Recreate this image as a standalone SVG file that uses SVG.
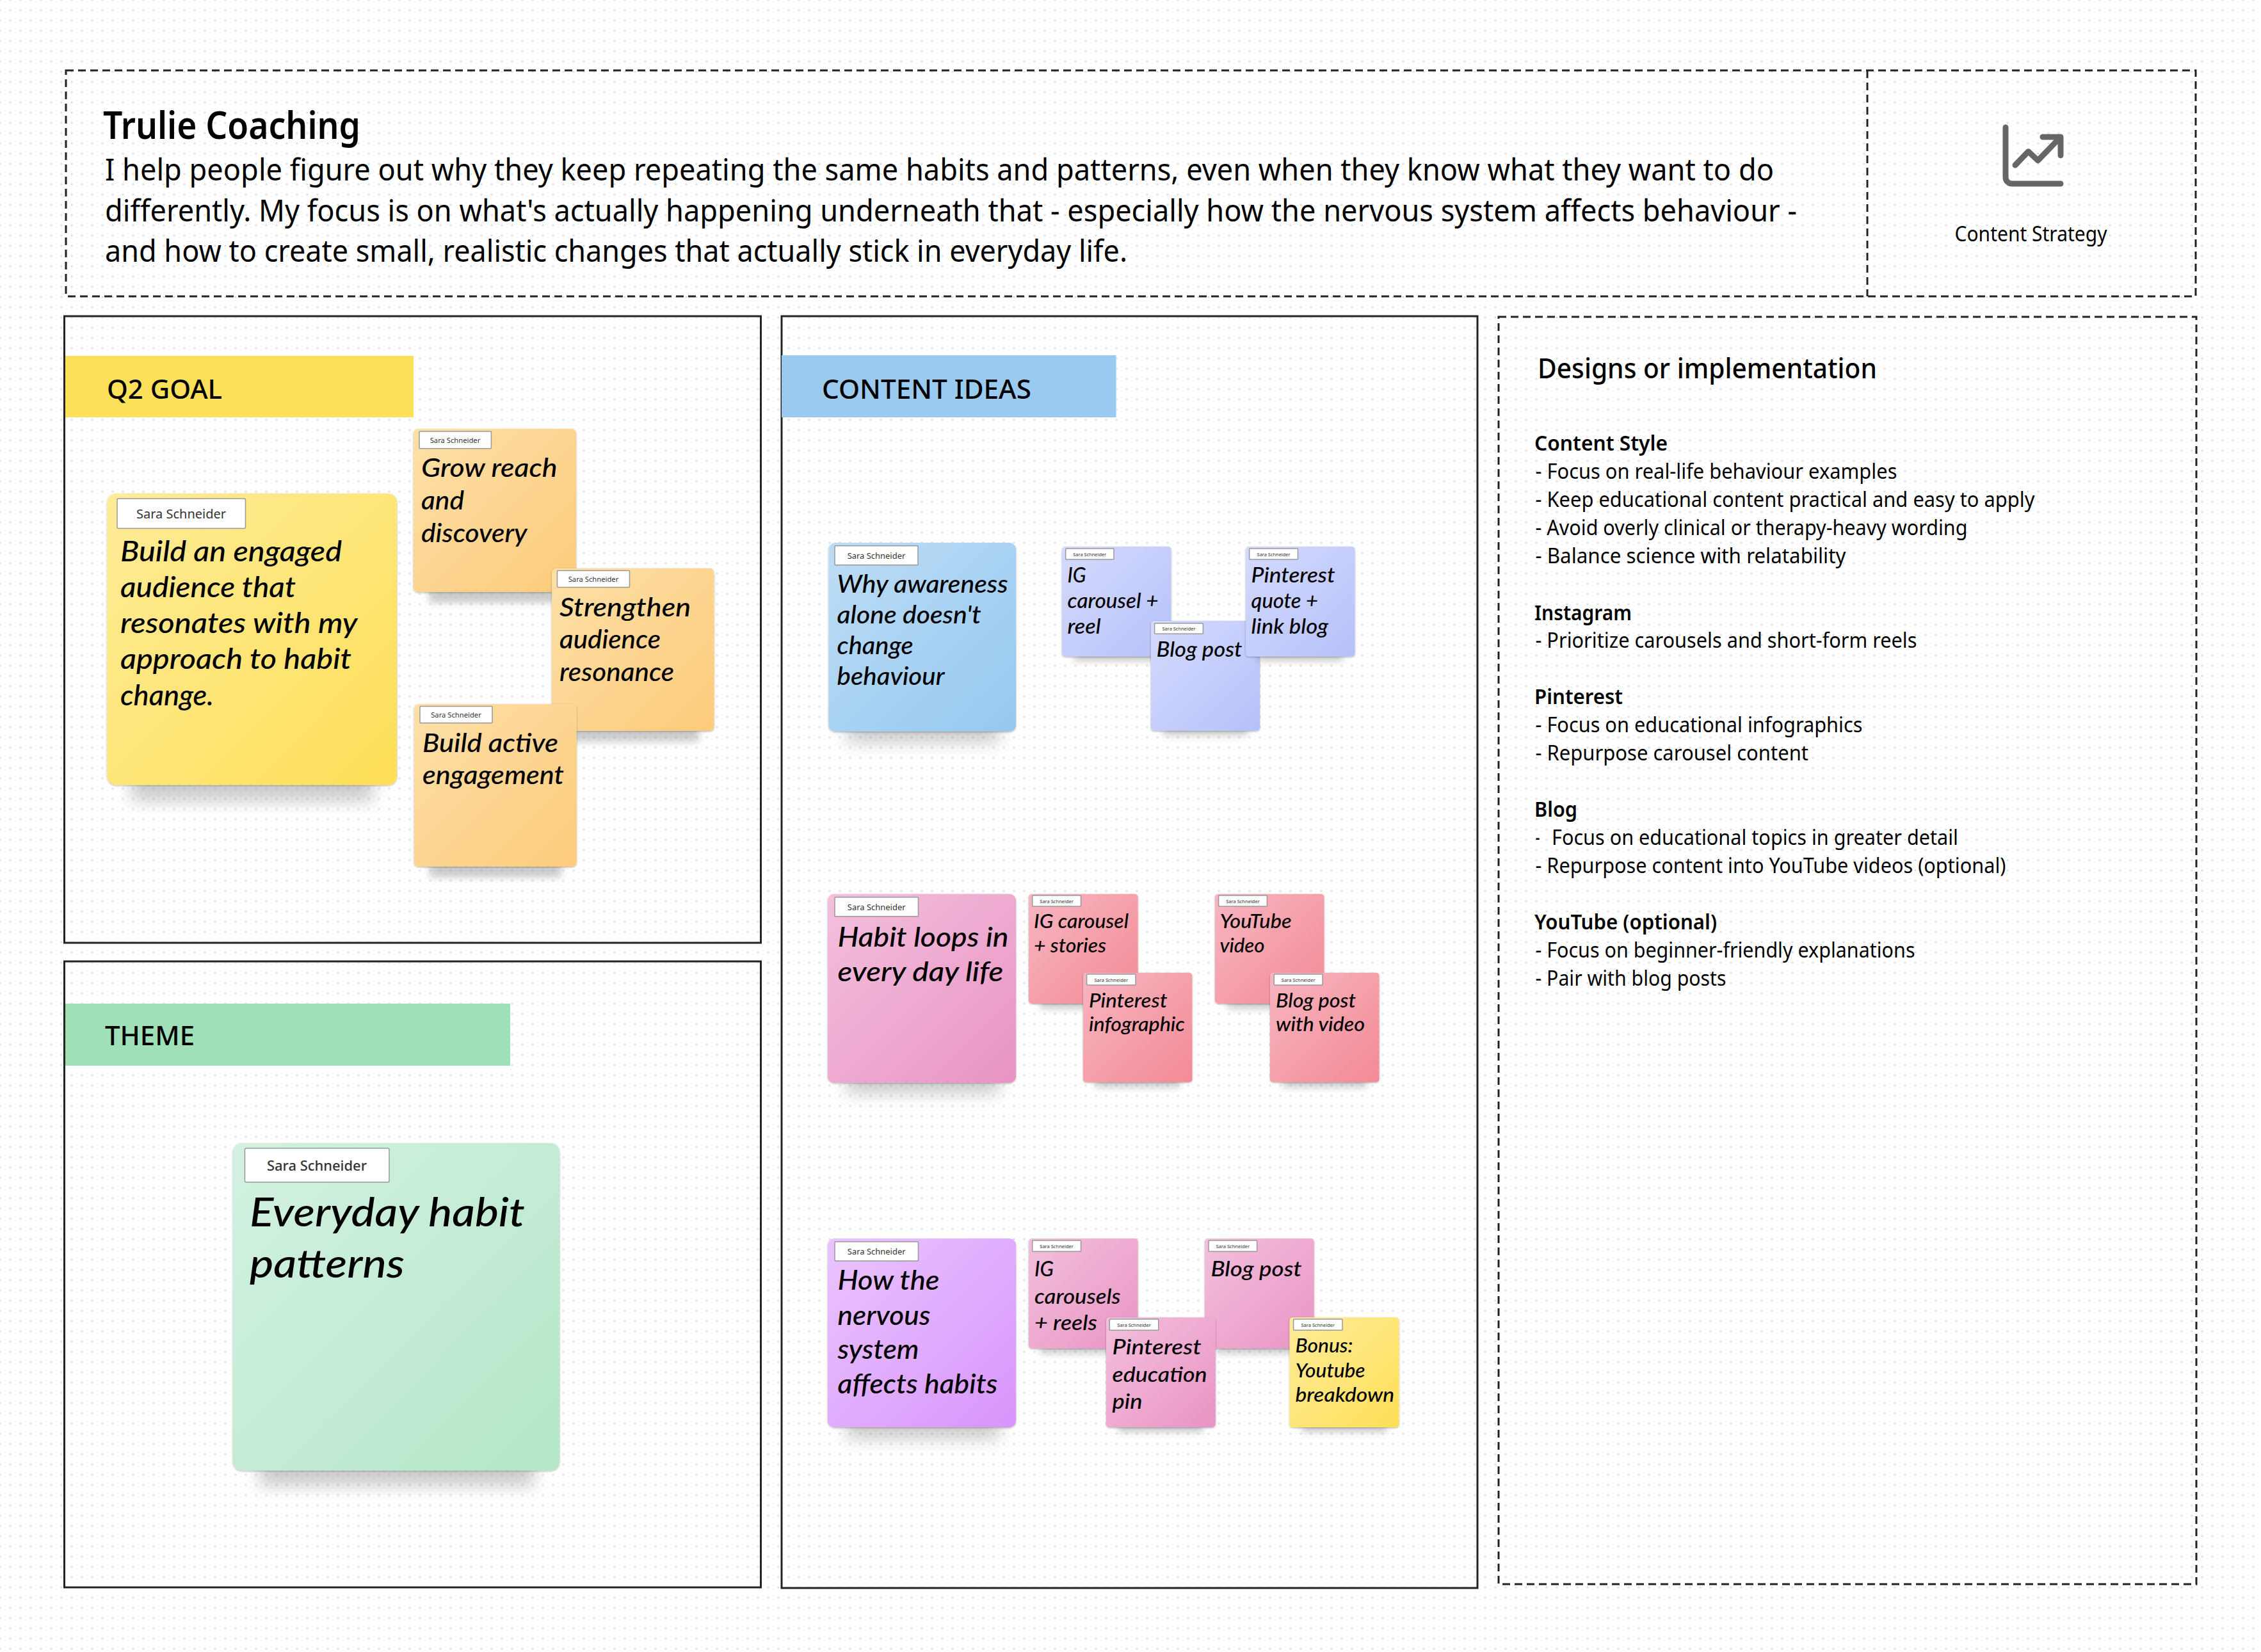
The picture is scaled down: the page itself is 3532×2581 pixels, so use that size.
<svg xmlns="http://www.w3.org/2000/svg" width="3532" height="2581" viewBox="0 0 3532 2581">
<style>
text{transform:translateY(2px)}
.s{font-family:"Noto Sans","Open Sans","Liberation Sans",sans-serif;fill:#000}
.b{font-weight:600}
.k{font-weight:500}
.h{font-family:"Lato","Liberation Sans",sans-serif;font-style:italic;font-weight:500;fill:#000}
.p{fill:none;stroke:#222;stroke-width:3}
.d{fill:none;stroke:#222;stroke-width:3;stroke-dasharray:12 7}
.bg{stroke:none}
.sh{fill:#000;fill-opacity:.2;filter:url(#blur)}
.ss{fill:#000;fill-opacity:.2;filter:url(#blurs)}
.n{filter:url(#edge)}
.t{fill:#fff;stroke:#999;stroke-width:1.5}
.a{font-family:"Noto Sans","Open Sans",sans-serif;fill:#333;text-anchor:middle}
.ic{fill:none;stroke:#666;stroke-width:9;stroke-linecap:round;stroke-linejoin:round}
.b46{font-size:44px}.o{font-size:40px}.g{font-size:62px}.bl{font-size:38px}.l{font-size:32px}.q{font-size:42px}.m{font-size:30px}.u{font-size:33px}
.r{font-size:32px}
</style>
<defs>
<pattern id="dots" x="15" y="15" width="16" height="16" patternUnits="userSpaceOnUse"><rect x="0" y="0" width="2" height="2" fill="#cfcfcf"/></pattern>
<filter id="blur" x="-30%" y="-50%" width="160%" height="200%"><feGaussianBlur stdDeviation="13"/></filter>
<filter id="blurs" x="-30%" y="-80%" width="160%" height="260%"><feGaussianBlur stdDeviation="6"/></filter>
<filter id="edge" x="-5%" y="-5%" width="110%" height="110%"><feDropShadow dx="0" dy="1" stdDeviation="1.500" flood-color="#000" flood-opacity=".3"/></filter>
<linearGradient id="gy" x1="0" y1="0" x2="1" y2="1"><stop offset="0" stop-color="#FEEC98"/><stop offset="1" stop-color="#FEDF58"/></linearGradient>
<linearGradient id="go" x1="0" y1="0" x2="1" y2="1"><stop offset="0" stop-color="#FDE0A8"/><stop offset="1" stop-color="#FDCB7B"/></linearGradient>
<linearGradient id="gg" x1="0" y1="0" x2="1" y2="1"><stop offset="0" stop-color="#D3F1E0"/><stop offset="1" stop-color="#B4E7C9"/></linearGradient>
<linearGradient id="gb" x1="0" y1="0" x2="1" y2="1"><stop offset="0" stop-color="#BDDDF6"/><stop offset="1" stop-color="#95C8EF"/></linearGradient>
<linearGradient id="gl" x1="0" y1="0" x2="1" y2="1"><stop offset="0" stop-color="#D5DBFD"/><stop offset="1" stop-color="#B5C1FA"/></linearGradient>
<linearGradient id="gr" x1="0" y1="0" x2="1" y2="1"><stop offset="0" stop-color="#F7B6C1"/><stop offset="1" stop-color="#F38A95"/></linearGradient>
<linearGradient id="gp" x1="0" y1="0" x2="1" y2="1"><stop offset="0" stop-color="#F3C0DD"/><stop offset="1" stop-color="#E994C4"/></linearGradient>
<linearGradient id="gv" x1="0" y1="0" x2="1" y2="1"><stop offset="0" stop-color="#EBC4FF"/><stop offset="1" stop-color="#D795FC"/></linearGradient>
</defs>
<rect width="3532" height="2581" fill="#fff"/>
<rect width="3532" height="2581" fill="url(#dots)"/>

<g id="header">
<rect class="d" x="103" y="110" width="3327" height="353"/>
<path class="d" d="M2917 110V463"/>
<text class="s b" x="161" y="215" font-size="60" textLength="402" lengthAdjust="spacingAndGlyphs">Trulie Coaching</text>
<text class="s" x="164" y="280" font-size="48" textLength="2607" lengthAdjust="spacingAndGlyphs">I help people figure out why they keep repeating the same habits and patterns, even when they know what they want to do</text>
<text class="s" x="164" y="343.500" font-size="48" textLength="2643" lengthAdjust="spacingAndGlyphs">differently. My focus is on what's actually happening underneath that - especially how the nervous system affects behaviour -</text>
<text class="s" x="164" y="407" font-size="48" textLength="1597" lengthAdjust="spacingAndGlyphs">and how to create small, realistic changes that actually stick in everyday life.</text>
</g>
<g id="content-strategy">
<path class="ic" d="M3133 199V277a10 10 0 0 0 10 10H3219"/>
<path class="ic" d="M3148 258L3168.600 236.700L3183.600 250.700L3219 214M3191 214H3219V242.700"/>
<text class="s" x="3172.500" y="375" font-size="32" text-anchor="middle" fill="#111" textLength="238" lengthAdjust="spacingAndGlyphs">Content Strategy</text>
</g>

<g id="q2-goal-panel">
<rect class="p" x="100.500" y="494" width="1088" height="979"/>
<rect class="bg" x="102" y="556" width="544" height="96" fill="#FDE05A"/>
<text class="s k" x="167" y="621" font-size="42" textLength="180" lengthAdjust="spacingAndGlyphs">Q2 GOAL</text>
</g>
<g id="theme-panel">
<rect class="p" x="100.500" y="1502" width="1088" height="978"/>
<rect class="bg" x="102" y="1568" width="695" height="97" fill="#9FE0B8"/>
<text class="s k" x="164" y="1631" font-size="42" textLength="140" lengthAdjust="spacingAndGlyphs">THEME</text>
</g>
<g id="content-ideas-panel">
<rect class="p" x="1221" y="494" width="1087" height="1987"/>
<rect class="bg" x="1221" y="555" width="522.500" height="97" fill="#9BCAF0"/>
<text class="s k" x="1284" y="621" font-size="42" textLength="327" lengthAdjust="spacingAndGlyphs">CONTENT IDEAS</text>
</g>

<g id="design-panel">
<rect class="d" x="2341" y="495" width="1090" height="1980"/>
<text class="s k" x="2402" y="589.300" font-size="44" textLength="530" lengthAdjust="spacingAndGlyphs">Designs or implementation</text>
<text class="s b r" x="2397" y="701.700" textLength="208" lengthAdjust="spacingAndGlyphs">Content Style</text>
<text class="s r" x="2398.500" y="746" textLength="565" lengthAdjust="spacingAndGlyphs">- Focus on real-life behaviour examples</text>
<text class="s r" x="2398.500" y="790" textLength="780" lengthAdjust="spacingAndGlyphs">- Keep educational content practical and easy to apply</text>
<text class="s r" x="2398.500" y="834" textLength="675" lengthAdjust="spacingAndGlyphs">- Avoid overly clinical or therapy-heavy wording</text>
<text class="s r" x="2398.500" y="878" textLength="485" lengthAdjust="spacingAndGlyphs">- Balance science with relatability</text>
<text class="s b r" x="2397" y="966.700" textLength="152" lengthAdjust="spacingAndGlyphs">Instagram</text>
<text class="s r" x="2398.500" y="1010" textLength="596" lengthAdjust="spacingAndGlyphs">- Prioritize carousels and short-form reels</text>
<text class="s b r" x="2397" y="1098" textLength="138" lengthAdjust="spacingAndGlyphs">Pinterest</text>
<text class="s r" x="2398.500" y="1141.700" textLength="511" lengthAdjust="spacingAndGlyphs">- Focus on educational infographics</text>
<text class="s r" x="2398.500" y="1185.700" textLength="426.500" lengthAdjust="spacingAndGlyphs">- Repurpose carousel content</text>
<text class="s b r" x="2397" y="1274" textLength="67" lengthAdjust="spacingAndGlyphs">Blog</text>
<text class="s r" x="2398.500" y="1318" textLength="7" lengthAdjust="spacingAndGlyphs">-</text>
<text class="s r" x="2424" y="1318" textLength="635" lengthAdjust="spacingAndGlyphs">Focus on educational topics in greater detail</text>
<text class="s r" x="2398.500" y="1362" textLength="735" lengthAdjust="spacingAndGlyphs">- Repurpose content into YouTube videos (optional)</text>
<text class="s b r" x="2397" y="1450" textLength="285" lengthAdjust="spacingAndGlyphs">YouTube (optional)</text>
<text class="s r" x="2398.500" y="1494" textLength="593" lengthAdjust="spacingAndGlyphs">- Focus on beginner-friendly explanations</text>
<text class="s r" x="2398.500" y="1538" textLength="298" lengthAdjust="spacingAndGlyphs">- Pair with blog posts</text>
</g>

<g id="goal-main">
<rect class="sh" x="205" y="1180" width="378" height="72"/>
<rect class="n" x="167.400" y="771" width="452.600" height="455.500" rx="14" fill="url(#gy)"/>
<rect class="t" x="183" y="779" width="200.500" height="46.600" rx="2"/>
<text class="a" x="283" y="808" font-size="20" textLength="140" lengthAdjust="spacingAndGlyphs">Sara Schneider</text>
<text class="h b46" x="188" y="875" textLength="346" lengthAdjust="spacingAndGlyphs">Build an engaged</text>
<text class="h b46" x="188" y="931" textLength="274" lengthAdjust="spacingAndGlyphs">audience that</text>
<text class="h b46" x="188" y="987" textLength="370.500" lengthAdjust="spacingAndGlyphs">resonates with my</text>
<text class="h b46" x="188" y="1043" textLength="361" lengthAdjust="spacingAndGlyphs">approach to habit</text>
<text class="h b46" x="188" y="1100" textLength="146" lengthAdjust="spacingAndGlyphs">change.</text>
</g>
<g id="goal-reach">
<rect class="ss" x="670" y="900" width="206" height="42"/>
<rect class="n" x="646" y="670" width="254" height="255" rx="7" fill="url(#go)"/>
<rect class="t" x="655" y="674" width="112.400" height="26.700" rx="1"/>
<text class="a" x="711" y="689.500" font-size="11" textLength="78.600" lengthAdjust="spacingAndGlyphs">Sara Schneider</text>
<text class="h o" x="658" y="743" textLength="212.600" lengthAdjust="spacingAndGlyphs">Grow reach</text>
<text class="h o" x="658" y="793.500" textLength="67" lengthAdjust="spacingAndGlyphs">and</text>
<text class="h o" x="658" y="845" textLength="165.600" lengthAdjust="spacingAndGlyphs">discovery</text>
</g>
<g id="goal-resonance">
<rect class="ss" x="886" y="1117" width="206" height="42"/>
<rect class="n" x="862" y="888" width="253.500" height="254" rx="7" fill="url(#go)"/>
<rect class="t" x="870.500" y="891.600" width="113" height="25.900" rx="1"/>
<text class="a" x="927" y="907" font-size="11" textLength="78.600" lengthAdjust="spacingAndGlyphs">Sara Schneider</text>
<text class="h o" x="874" y="961" textLength="205" lengthAdjust="spacingAndGlyphs">Strengthen</text>
<text class="h o" x="874" y="1011" textLength="158" lengthAdjust="spacingAndGlyphs">audience</text>
<text class="h o" x="874" y="1062" textLength="179" lengthAdjust="spacingAndGlyphs">resonance</text>
</g>
<g id="goal-engagement">
<rect class="ss" x="671" y="1329" width="206" height="42"/>
<rect class="n" x="647" y="1100" width="253.700" height="254" rx="7" fill="url(#go)"/>
<rect class="t" x="656" y="1103.600" width="113" height="25.800" rx="1"/>
<text class="a" x="712.500" y="1119" font-size="11" textLength="78.600" lengthAdjust="spacingAndGlyphs">Sara Schneider</text>
<text class="h o" x="660" y="1172.500" textLength="212" lengthAdjust="spacingAndGlyphs">Build active</text>
<text class="h o" x="660" y="1223" textLength="221" lengthAdjust="spacingAndGlyphs">engagement</text>
</g>

<g id="theme-main">
<rect class="sh" x="405" y="2250" width="430" height="72"/>
<rect class="n" x="364" y="1786" width="510" height="511.500" rx="14" fill="url(#gg)"/>
<rect class="t" x="382.500" y="1794" width="225.500" height="53" rx="2"/>
<text class="a" x="495" y="1826.600" font-size="22" font-weight="500" textLength="156" lengthAdjust="spacingAndGlyphs">Sara Schneider</text>
<text class="h g" x="390" y="1914" textLength="430" lengthAdjust="spacingAndGlyphs">Everyday habit</text>
<text class="h g" x="390" y="1994" textLength="242" lengthAdjust="spacingAndGlyphs">patterns</text>
</g>

<g id="idea-awareness">
<rect class="sh" x="1322" y="1105" width="240" height="55"/>
<rect class="n" x="1294.400" y="848" width="292.600" height="295" rx="10" fill="url(#gb)"/>
<rect class="t" x="1304" y="852.700" width="130" height="30" rx="1"/>
<text class="a" x="1369" y="870.500" font-size="13" textLength="90.700" lengthAdjust="spacingAndGlyphs">Sara Schneider</text>
<text class="h bl" x="1307.600" y="924" textLength="267" lengthAdjust="spacingAndGlyphs">Why awareness</text>
<text class="h bl" x="1307.600" y="971.700" textLength="225" lengthAdjust="spacingAndGlyphs">alone doesn't</text>
<text class="h bl" x="1307.600" y="1020" textLength="119" lengthAdjust="spacingAndGlyphs">change</text>
<text class="h bl" x="1307.600" y="1068" textLength="168" lengthAdjust="spacingAndGlyphs">behaviour</text>
</g>
<g id="idea-awareness-ig">
<rect class="ss" x="1678" y="1005" width="132" height="28"/>
<rect class="n" x="1659" y="854" width="170.500" height="171.700" rx="5" fill="url(#gl)"/>
<rect class="t" x="1664.700" y="857" width="75.300" height="17" rx="1"/>
<text class="a" x="1702.300" y="866.500" font-size="7.500" textLength="52" lengthAdjust="spacingAndGlyphs">Sara Schneider</text>
<text class="h l" x="1667.600" y="908" textLength="29" lengthAdjust="spacingAndGlyphs">IG</text>
<text class="h l" x="1667.600" y="948" textLength="142" lengthAdjust="spacingAndGlyphs">carousel +</text>
<text class="h l" x="1667.600" y="988" textLength="52" lengthAdjust="spacingAndGlyphs">reel</text>
</g>
<g id="idea-awareness-blog">
<rect class="ss" x="1817" y="1121" width="132" height="28"/>
<rect class="n" x="1798" y="970" width="170" height="171.700" rx="5" fill="url(#gl)"/>
<rect class="t" x="1803.600" y="973.700" width="75.800" height="16.600" rx="1"/>
<text class="a" x="1841.500" y="983" font-size="7.500" textLength="52" lengthAdjust="spacingAndGlyphs">Sara Schneider</text>
<text class="h l" x="1806.500" y="1024" textLength="134" lengthAdjust="spacingAndGlyphs">Blog post</text>
</g>
<g id="idea-awareness-pinterest">
<rect class="ss" x="1965" y="1005" width="132" height="28"/>
<rect class="n" x="1946" y="854" width="170.500" height="171.700" rx="5" fill="url(#gl)"/>
<rect class="t" x="1951.700" y="857" width="75.800" height="17" rx="1"/>
<text class="a" x="1989.600" y="866.500" font-size="7.500" textLength="52" lengthAdjust="spacingAndGlyphs">Sara Schneider</text>
<text class="h l" x="1954.600" y="908" textLength="131" lengthAdjust="spacingAndGlyphs">Pinterest</text>
<text class="h l" x="1954.600" y="948" textLength="104.500" lengthAdjust="spacingAndGlyphs">quote +</text>
<text class="h l" x="1954.600" y="988" textLength="120.500" lengthAdjust="spacingAndGlyphs">link blog</text>
</g>

<g id="idea-loops">
<rect class="sh" x="1322" y="1654" width="240" height="55"/>
<rect class="n" x="1293" y="1396.700" width="294" height="295" rx="10" fill="url(#gp)"/>
<rect class="t" x="1304" y="1401.700" width="130.500" height="30" rx="1"/>
<text class="a" x="1369.200" y="1419.500" font-size="13" textLength="90.700" lengthAdjust="spacingAndGlyphs">Sara Schneider</text>
<text class="h q" x="1308.500" y="1477" textLength="267" lengthAdjust="spacingAndGlyphs">Habit loops in</text>
<text class="h q" x="1308.500" y="1531" textLength="259" lengthAdjust="spacingAndGlyphs">every day life</text>
</g>
<g id="idea-loops-ig">
<rect class="ss" x="1625" y="1548" width="132" height="28"/>
<rect class="n" x="1607" y="1396.700" width="170.600" height="171.300" rx="5" fill="url(#gr)"/>
<rect class="t" x="1612.700" y="1399" width="75.800" height="17" rx="1"/>
<text class="a" x="1650.600" y="1408.500" font-size="7.500" textLength="52.700" lengthAdjust="spacingAndGlyphs">Sara Schneider</text>
<text class="h m" x="1615" y="1448" textLength="148" lengthAdjust="spacingAndGlyphs">IG carousel</text>
<text class="h m" x="1615" y="1486" textLength="113" lengthAdjust="spacingAndGlyphs">+ stories</text>
</g>
<g id="idea-loops-pinterest">
<rect class="ss" x="1711" y="1671" width="132" height="28"/>
<rect class="n" x="1692" y="1519.700" width="170.400" height="171" rx="5" fill="url(#gr)"/>
<rect class="t" x="1697.600" y="1522" width="76.400" height="17" rx="1"/>
<text class="a" x="1735.800" y="1531.500" font-size="7.500" textLength="52.700" lengthAdjust="spacingAndGlyphs">Sara Schneider</text>
<text class="h m" x="1701" y="1571.700" textLength="122.400" lengthAdjust="spacingAndGlyphs">Pinterest</text>
<text class="h m" x="1701" y="1609" textLength="150" lengthAdjust="spacingAndGlyphs">infographic</text>
</g>
<g id="idea-loops-youtube">
<rect class="ss" x="1917" y="1548" width="132" height="28"/>
<rect class="n" x="1898" y="1396.700" width="170.500" height="171.300" rx="5" fill="url(#gr)"/>
<rect class="t" x="1903.600" y="1399" width="75.800" height="17" rx="1"/>
<text class="a" x="1941.500" y="1408.500" font-size="7.500" textLength="52.700" lengthAdjust="spacingAndGlyphs">Sara Schneider</text>
<text class="h m" x="1905.500" y="1448" textLength="112" lengthAdjust="spacingAndGlyphs">YouTube</text>
<text class="h m" x="1905.500" y="1486" textLength="70" lengthAdjust="spacingAndGlyphs">video</text>
</g>
<g id="idea-loops-blog">
<rect class="ss" x="2003" y="1671" width="132" height="28"/>
<rect class="n" x="1984" y="1519.700" width="170.500" height="171" rx="5" fill="url(#gr)"/>
<rect class="t" x="1990.300" y="1522" width="75.700" height="17" rx="1"/>
<text class="a" x="2028.200" y="1531.500" font-size="7.500" textLength="52.700" lengthAdjust="spacingAndGlyphs">Sara Schneider</text>
<text class="h m" x="1993" y="1571.700" textLength="125" lengthAdjust="spacingAndGlyphs">Blog post</text>
<text class="h m" x="1993" y="1609" textLength="139" lengthAdjust="spacingAndGlyphs">with video</text>
</g>

<g id="idea-nervous">
<rect class="sh" x="1322" y="2193" width="240" height="55"/>
<rect class="n" x="1293" y="1935" width="294" height="295" rx="10" fill="url(#gv)"/>
<rect class="t" x="1304" y="1940" width="130.500" height="30" rx="1"/>
<text class="a" x="1369.200" y="1958" font-size="13" textLength="90.700" lengthAdjust="spacingAndGlyphs">Sara Schneider</text>
<text class="h q" x="1308.500" y="2013" textLength="159" lengthAdjust="spacingAndGlyphs">How the</text>
<text class="h q" x="1308.500" y="2068" textLength="145" lengthAdjust="spacingAndGlyphs">nervous</text>
<text class="h q" x="1308.500" y="2120.700" textLength="127" lengthAdjust="spacingAndGlyphs">system</text>
<text class="h q" x="1308.500" y="2175" textLength="250" lengthAdjust="spacingAndGlyphs">affects habits</text>
</g>
<g id="idea-nervous-ig">
<rect class="ss" x="1625" y="2087" width="132" height="28"/>
<rect class="n" x="1607" y="1935" width="170.600" height="171.700" rx="5" fill="url(#gp)"/>
<rect class="t" x="1612.700" y="1938" width="75.800" height="17.300" rx="1"/>
<text class="a" x="1650.600" y="1947.500" font-size="7.500" textLength="52.700" lengthAdjust="spacingAndGlyphs">Sara Schneider</text>
<text class="h u" x="1616" y="1991.700" textLength="30" lengthAdjust="spacingAndGlyphs">IG</text>
<text class="h u" x="1616" y="2035" textLength="134.500" lengthAdjust="spacingAndGlyphs">carousels</text>
<text class="h u" x="1616" y="2076" textLength="98" lengthAdjust="spacingAndGlyphs">+ reels</text>
</g>
<g id="idea-nervous-blog">
<rect class="ss" x="1901" y="2087" width="132" height="28"/>
<rect class="n" x="1882" y="1935" width="170.700" height="171.700" rx="5" fill="url(#gp)"/>
<rect class="t" x="1888" y="1938" width="75.600" height="17.300" rx="1"/>
<text class="a" x="1925.800" y="1947.500" font-size="7.500" textLength="52.700" lengthAdjust="spacingAndGlyphs">Sara Schneider</text>
<text class="h u" x="1891.500" y="1991.700" textLength="142" lengthAdjust="spacingAndGlyphs">Blog post</text>
</g>
<g id="idea-nervous-pinterest">
<rect class="ss" x="1747" y="2210" width="132" height="28"/>
<rect class="n" x="1728" y="2058.300" width="170.800" height="171.700" rx="5" fill="url(#gp)"/>
<rect class="t" x="1733.300" y="2061" width="76.400" height="17.300" rx="1"/>
<text class="a" x="1771.500" y="2070.500" font-size="7.500" textLength="52.700" lengthAdjust="spacingAndGlyphs">Sara Schneider</text>
<text class="h u" x="1737.600" y="2114" textLength="139" lengthAdjust="spacingAndGlyphs">Pinterest</text>
<text class="h u" x="1737.600" y="2156.700" textLength="148" lengthAdjust="spacingAndGlyphs">education</text>
<text class="h u" x="1737.600" y="2199" textLength="47" lengthAdjust="spacingAndGlyphs">pin</text>
</g>
<g id="idea-nervous-bonus">
<rect class="ss" x="2034" y="2210" width="132" height="28"/>
<rect class="n" x="2014.500" y="2058.300" width="171" height="171.700" rx="5" fill="url(#gy)"/>
<rect class="t" x="2020.600" y="2061" width="76.400" height="17.300" rx="1"/>
<text class="a" x="2058.800" y="2070.500" font-size="7.500" textLength="52.700" lengthAdjust="spacingAndGlyphs">Sara Schneider</text>
<text class="h m" x="2023.600" y="2111" textLength="90" lengthAdjust="spacingAndGlyphs">Bonus:</text>
<text class="h m" x="2023.600" y="2150" textLength="109" lengthAdjust="spacingAndGlyphs">Youtube</text>
<text class="h m" x="2023.600" y="2188.300" textLength="154.500" lengthAdjust="spacingAndGlyphs">breakdown</text>
</g>
<g id="connectors"/>
</svg>
